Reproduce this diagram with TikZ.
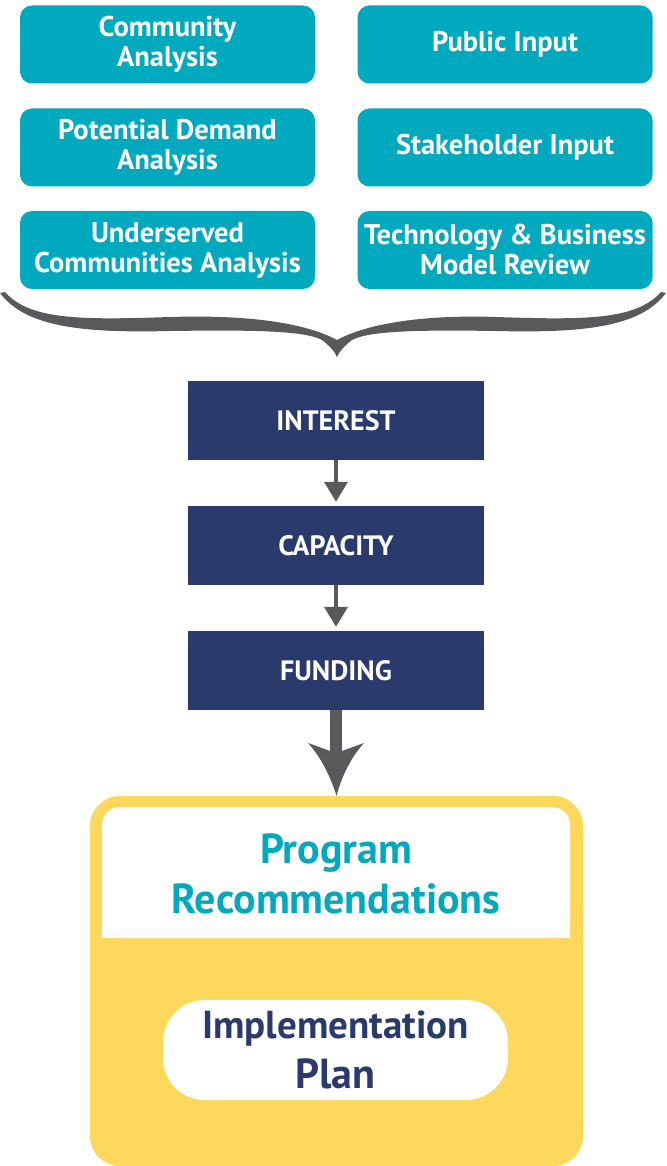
\documentclass[tikz,border=0pt]{standalone}
\usepackage{fontspec}
\setmainfont{PT Sans}
\usetikzlibrary{arrows.meta}
\definecolor{teal1}{HTML}{00A9BD}
\definecolor{navy1}{HTML}{2A3A6D}
\definecolor{grey1}{HTML}{58595B}
\definecolor{yel1}{HTML}{FED75D}
\tikzset{
  inbox/.style={fill=teal1, rounded corners=12pt, text=white,
    font=\fontsize{28.5}{30}\selectfont\bfseries, align=center,
    inner sep=0pt, minimum width=295pt, minimum height=78pt},
  stagebox/.style={fill=navy1, text=white,
    font=\fontsize{28}{28}\selectfont\bfseries, align=center,
    inner sep=0pt, minimum width=296pt, minimum height=79pt},
  smallarrow/.style={grey1, line width=4pt, shorten >=4pt,
    -{Triangle[width=23pt,length=20pt]}},
  bigtext/.style={font=\fontsize{42}{50}\selectfont\bfseries, align=center, inner sep=0pt}
}
\begin{document}
\begin{tikzpicture}[x=1pt,y=-1pt]
\useasboundingbox (0,0) rectangle (666,1166);
% input boxes
\node[inbox] (ca) at (167.5,44.5) {Community\\Analysis};
\node[inbox] (pd) at (167.5,147.5) {Potential Demand\\Analysis};
\node[inbox] (uc) at (167.5,250) {Underserved\\Communities Analysis};
\node[inbox] (pi) at (505,44.5) {Public Input};
\node[inbox] (si) at (505,147.5) {Stakeholder Input};
\node[inbox] (tb) at (505,250) {Technology \& Business\\Model Review};
% brace
\fill[grey1] (5,292)
  .. controls (30,320) and (80,320) .. (170,317)
  .. controls (235,315) and (300,320) .. (337,340)
  .. controls (374,320) and (439,315) .. (496,317)
  .. controls (586,320) and (636,320) .. (661,292)
  -- (666,293)
  .. controls (640,328) and (580,333) .. (496,331)
  .. controls (430,330) and (370,330) .. (352,340)
  .. controls (344,346) and (339,352) .. (337,357)
  .. controls (335,352) and (330,346) .. (322,340)
  .. controls (304,330) and (244,330) .. (170,331)
  .. controls (86,333) and (26,328) .. (0,293)
  -- cycle;
% stages
\node[stagebox] (int) at (336,420.5) {INTEREST};
\node[stagebox] (cap) at (336,545.5) {CAPACITY};
\node[stagebox] (fun) at (336,670.5) {FUNDING};
\draw[smallarrow] (int.south) -- (cap.north);
\draw[smallarrow] (cap.south) -- (fun.north);
% result box
\node[fill=yel1, rounded corners=30pt, minimum width=493pt, minimum height=370pt, inner sep=0pt] (res) at (336.5,981) {};
\fill[white, rounded corners=18pt] (102,807) rectangle (570,938);
\fill[white] (102,880) rectangle (570,938);
\node[bigtext, text=teal1] (prog) at (336,874) {Program\\Recommendations};
\node[bigtext, text=navy1, fill=white, rounded corners=42pt, minimum width=345pt, minimum height=100pt] (impl) at (335.5,1050) {\fontsize{39}{47}\selectfont Implementation\\Plan};
% big arrow
\coordinate (neck) at (336,752);
\draw[grey1, line width=12pt] (fun.south) -- (neck);
\fill[grey1] (308,743) .. controls (320,756) and (330,775) .. (res.north)
  .. controls (342,775) and (352,756) .. (364,743) -- (342,751) -- (330,751) -- cycle;
\end{tikzpicture}
\end{document}
